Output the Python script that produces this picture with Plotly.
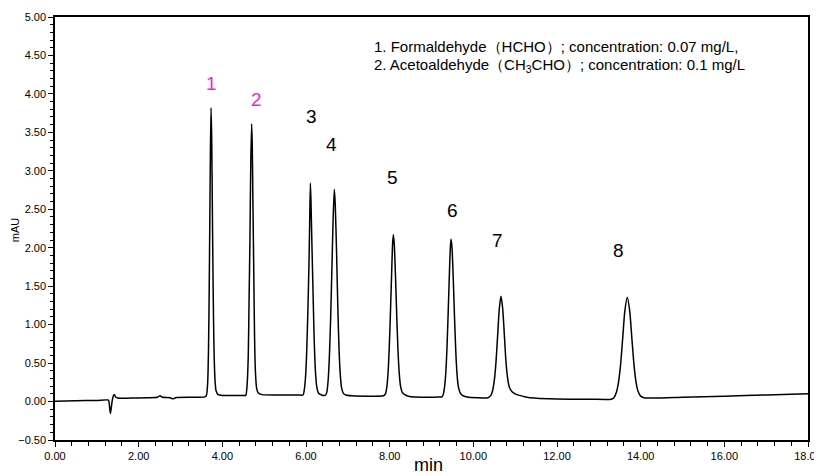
import plotly.graph_objects as go

# Retention time (min) and absorbance (mAU)
time_min = [
    0.00, 0.50, 1.00, 1.27, 1.29, 1.31, 1.325, 1.345, 1.37, 1.40, 1.42, 1.45, 1.50,
    1.80, 2.20, 2.45, 2.51, 2.57, 2.75, 2.82, 2.88, 3.30, 3.58,
    # peak 1
    3.62, 3.65, 3.67, 3.685, 3.70, 3.715, 3.73, 3.745, 3.76, 3.775, 3.79, 3.805, 3.825,
    3.85, 3.90, 4.00, 4.30, 4.50,
    # peak 2
    4.56, 4.59, 4.62, 4.64, 4.66, 4.68, 4.70, 4.715, 4.73, 4.75, 4.77, 4.79, 4.82,
    4.86, 4.95, 5.30, 5.80,
    # peak 3
    5.93, 5.955, 5.985, 6.015, 6.045, 6.075, 6.09, 6.105, 6.12, 6.135, 6.165, 6.195,
    6.225, 6.255, 6.29, 6.33, 6.40, 6.44,
    # peak 4
    6.47, 6.50, 6.53, 6.56, 6.59, 6.62, 6.65, 6.677, 6.70, 6.73, 6.76, 6.79, 6.82,
    6.85, 6.89, 6.95, 7.10, 7.50,
    # peak 5
    7.85, 7.90, 7.93, 7.96, 7.99, 8.02, 8.05, 8.07, 8.088, 8.11, 8.14, 8.17, 8.20,
    8.23, 8.26, 8.30, 8.36, 8.45, 8.60, 9.00, 9.20,
    # peak 6
    9.25, 9.28, 9.31, 9.34, 9.37, 9.40, 9.43, 9.45, 9.467, 9.49, 9.52, 9.55, 9.58,
    9.61, 9.64, 9.68, 9.74, 9.85, 10.10, 10.35,
    # peak 7
    10.42, 10.46, 10.50, 10.54, 10.58, 10.62, 10.66, 10.70, 10.74, 10.78, 10.82,
    10.86, 10.92, 11.00, 11.10, 11.25, 11.45, 11.80, 12.30, 12.80, 13.30,
    # peak 8
    13.36, 13.42, 13.47, 13.52, 13.57, 13.62, 13.68, 13.74, 13.79, 13.84, 13.89,
    13.94, 14.00, 14.08, 14.30, 15.00, 16.00, 17.00, 18.00,
]
absorbance_mau = [
    0.005, 0.01, 0.015, 0.02, 0.00, -0.10, -0.155, -0.08, 0.02, 0.08, 0.09, 0.06, 0.045,
    0.045, 0.05, 0.055, 0.075, 0.055, 0.05, 0.035, 0.05, 0.055, 0.06,
    # peak 1
    0.08, 0.25, 0.70, 1.40, 2.30, 3.25, 3.82, 3.45, 2.60, 1.75, 1.05, 0.58, 0.28,
    0.14, 0.09, 0.08, 0.08, 0.08,
    # peak 2
    0.08, 0.20, 0.60, 1.35, 2.10, 3.10, 3.61, 3.35, 2.65, 1.75, 0.85, 0.40, 0.17,
    0.11, 0.09, 0.085, 0.085,
    # peak 3
    0.085, 0.14, 0.29, 0.62, 1.18, 1.90, 2.40, 2.84, 2.58, 2.20, 1.50, 0.82,
    0.40, 0.20, 0.12, 0.095, 0.08, 0.08,
    # peak 4
    0.085, 0.13, 0.28, 0.60, 1.10, 1.75, 2.40, 2.76, 2.55, 1.95, 1.25, 0.68, 0.35,
    0.18, 0.11, 0.085, 0.075, 0.07,
    # peak 5
    0.075, 0.10, 0.18, 0.36, 0.70, 1.18, 1.72, 2.05, 2.17, 2.05, 1.62, 1.10, 0.65,
    0.36, 0.20, 0.12, 0.09, 0.07, 0.06, 0.055, 0.06,
    # peak 6
    0.06, 0.09, 0.18, 0.36, 0.70, 1.18, 1.70, 2.00, 2.11, 2.00, 1.60, 1.10, 0.66,
    0.36, 0.20, 0.12, 0.08, 0.06, 0.05, 0.05,
    # peak 7
    0.08, 0.14, 0.27, 0.50, 0.85, 1.20, 1.37, 1.22, 0.88, 0.52, 0.30,
    0.19, 0.13, 0.10, 0.08, 0.06, 0.045, 0.035, 0.03, 0.03, 0.03,
    # peak 8
    0.05, 0.12, 0.25, 0.48, 0.82, 1.17, 1.355, 1.17, 0.82, 0.48, 0.25,
    0.13, 0.07, 0.05, 0.045, 0.055, 0.07, 0.085, 0.10,
]

peak_labels = ["1", "2", "3", "4", "5", "6", "7", "8"]
peak_label_t = [3.73, 4.81, 6.12, 6.60, 8.06, 9.51, 10.57, 13.48]
peak_label_v = [4.13, 3.93, 3.71, 3.34, 2.91, 2.49, 2.10, 1.97]
peak_label_colors = ["#ff1ccb", "#ff1ccb"] + ["#000000"] * 6

x_ticks = [0, 2, 4, 6, 8, 10, 12, 14, 16, 18]
y_ticks = [-0.5, 0, 0.5, 1, 1.5, 2, 2.5, 3, 3.5, 4, 4.5, 5]

legend_lines = [
    "1. Formaldehyde（HCHO）; concentration: 0.07 mg/L,",
    "2. Acetoaldehyde（CH<sub>3</sub>CHO）; concentration: 0.1 mg/L",
]

fig = go.Figure()
fig.add_trace(go.Scatter(
    x=time_min, y=absorbance_mau, mode="lines",
    line=dict(color="black", width=1.5, shape="spline", smoothing=0.6),
    showlegend=False, hoverinfo="skip",
))

tick_font = dict(family="Liberation Sans Narrow, Arial Narrow, Liberation Sans, Arial", size=11, color="black")

for lab, t, v, c in zip(peak_labels, peak_label_t, peak_label_v, peak_label_colors):
    fig.add_annotation(x=t, y=v, text=lab, showarrow=False,
                       font=dict(family="Liberation Sans, Arial", size=19, color=c),
                       xanchor="center", yanchor="middle")

# plot area in page pixels: x 55..808, y 17..440
for i, line in enumerate(legend_lines):
    fig.add_annotation(xref="paper", yref="paper",
                       x=(372 - 55) / 753, y=(440 - (46 + 20 * i)) / 423,
                       text=line, showarrow=False, xanchor="left", yanchor="middle",
                       font=dict(family="Liberation Sans, Arial", size=15, color="black"))

fig.add_annotation(xref="paper", yref="paper", x=(428 - 55) / 753, y=(440 - 465) / 423,
                   text="min", showarrow=False, xanchor="center", yanchor="middle",
                   font=dict(family="Liberation Sans, Arial", size=18, color="black"))
fig.add_annotation(xref="paper", yref="paper", x=(15 - 55) / 753, y=0.496,
                   text="mAU", showarrow=False, textangle=-90,
                   xanchor="center", yanchor="middle",
                   font=dict(family="Liberation Sans, Arial", size=11, color="black"))

# the page body adds an 8 px offset, so the figure is 8 px smaller with 8 px less margin
fig.update_layout(
    width=814, height=468,
    margin=dict(l=47, r=14, t=9, b=36, autoexpand=False),
    paper_bgcolor="white", plot_bgcolor="white",
    xaxis=dict(
        range=[0, 18], tickvals=x_ticks, tickformat=".2f", automargin=False,
        ticks="outside", ticklen=5, tickwidth=1, tickcolor="black",
        minor=dict(dtick=0.4, ticks="outside", ticklen=4, tickcolor="black", showgrid=False),
        showline=True, linecolor="black", linewidth=1.5, mirror=True,
        showgrid=False, zeroline=False, tickfont=tick_font,
    ),
    yaxis=dict(
        range=[-0.5, 5], tickvals=y_ticks, tickformat=".2f", automargin=False,
        ticks="outside", ticklen=5, tickwidth=1, tickcolor="black",
        minor=dict(dtick=0.1, ticks="outside", ticklen=3, tickcolor="black", showgrid=False),
        showline=True, linecolor="black", linewidth=1.5, mirror=True,
        showgrid=False, zeroline=False, tickfont=tick_font,
    ),
)

fig.write_html("out.html")
